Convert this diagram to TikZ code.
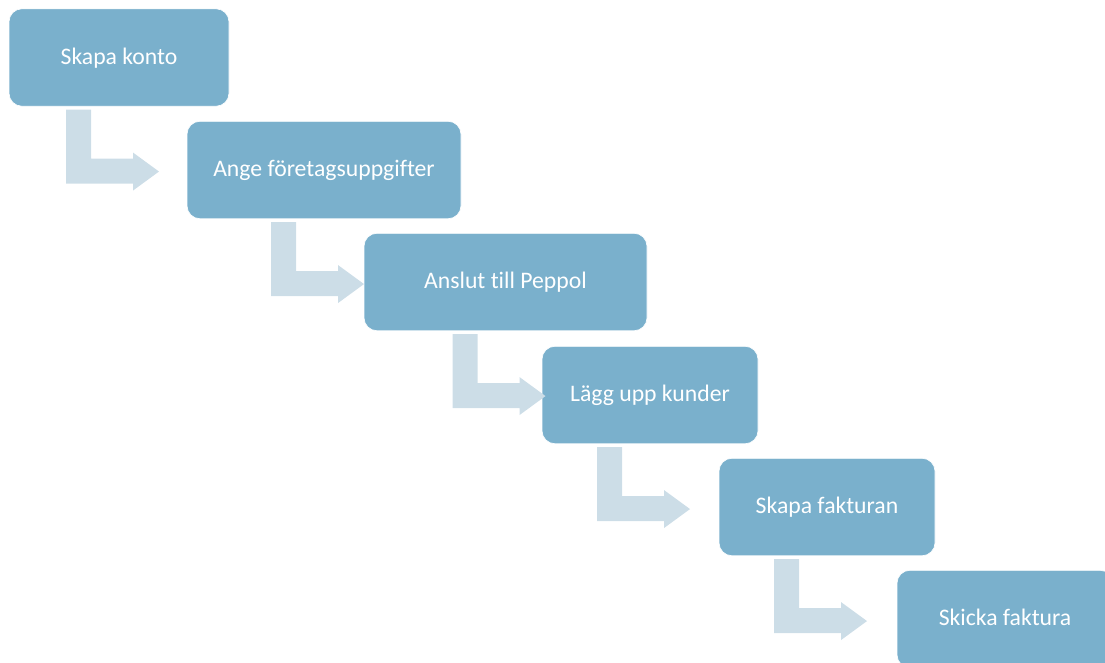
\documentclass[tikz,border=0pt]{standalone}
\usepackage{fontspec}
\setmainfont[Ligatures={NoCommon}]{Carlito}
\definecolor{boxfill}{HTML}{7AB0CC}
\definecolor{arrowfill}{HTML}{CCDDE7}
\begin{document}
\begin{tikzpicture}[x=1pt,y=-1pt,
  stepbox/.style={rectangle, rounded corners=13pt, fill=boxfill, draw=white, line width=0.6pt,
    minimum height=97.5pt, inner sep=0pt, text=white, text height=17.8pt, text depth=4.7pt,
    font=\fontsize{23.7}{28}\selectfont},
  flowarrow/.pic={\fill[arrowfill] (-53,3) -- (-28,3) -- (-28,52) -- (14,52) -- (14,46) -- (40,65) -- (14,84) -- (14,77) -- (-53,77) -- cycle;}]
\useasboundingbox (0,0) rectangle (1105,662);
\clip (0,0) rectangle (1105,662);
\node[stepbox, minimum width=220pt] (b1) at (119,57.5) {Skapa konto};
\node[stepbox, minimum width=274pt] (b2) at (324,170) {Ange företagsuppgifter};
\node[stepbox, minimum width=283pt] (b3) at (505.5,282) {Anslut till Peppol};
\node[stepbox, minimum width=216pt] (b4) at (650,395) {Lägg upp kunder};
\node[stepbox, minimum width=216pt] (b5) at (827,507) {Skapa fakturan};
\node[stepbox, minimum width=216pt] (b6) at (1005,619) {Skicka faktura};
\pic at (b1.south) {flowarrow};
\pic at (b2.south) {flowarrow};
\pic at (b3.south) {flowarrow};
\pic at (b4.south) {flowarrow};
\pic at (b5.south) {flowarrow};
\end{tikzpicture}
\end{document}
